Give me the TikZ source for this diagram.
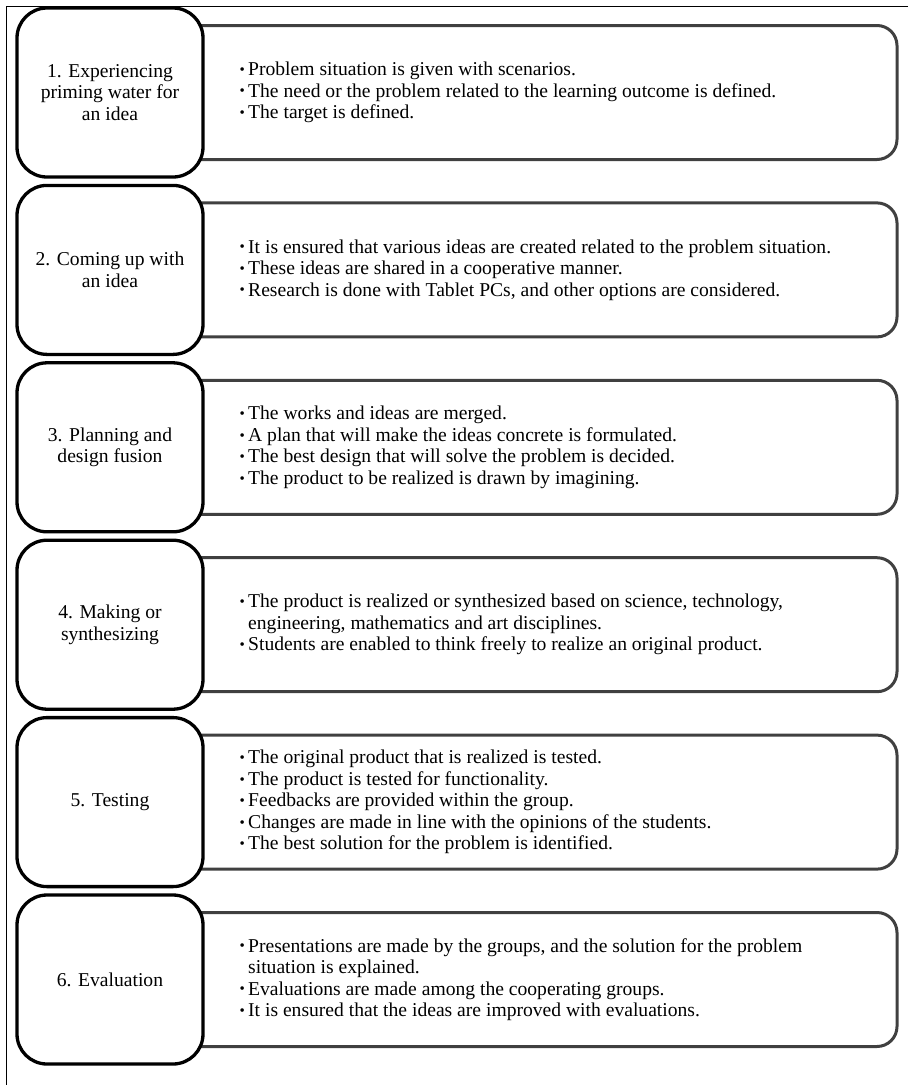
\documentclass[tikz,border=0pt]{standalone}
\usepackage{fontspec}
\setmainfont{Liberation Serif}
\newcommand{\bul}{\makebox[7pt][l]{\hspace*{-1.5pt}\raisebox{1.2pt}{\fontsize{15}{15}\selectfont •}}}
\newcommand{\cont}{\hspace*{7pt}}
\begin{document}
\begin{tikzpicture}[x=1pt,y=-1pt,
  stepbox/.style={draw=black,line width=3.3pt,rounded corners=30pt,fill=white,
    minimum width=186pt,minimum height=169pt,inner sep=0pt,align=center,
    font=\fontsize{19.6}{21.5}\selectfont},
  infobox/.style={draw=black!75,line width=3pt,rounded corners=20pt,fill=white,
    minimum width=717pt,minimum height=134pt,inner sep=0pt},
  infotext/.style={anchor=west,inner sep=0pt,align=left,
    font=\fontsize{19.6}{21.5}\selectfont}]
\useasboundingbox (0,0) rectangle (910,1085);
\coordinate (tl) at (6,6);
\coordinate (tr) at (908,6);
\coordinate (bl) at (6,1085);
\draw[line width=1pt] (tr) -- (tl) -- (bl);
\foreach \i/\lab/\txt in {
  1/{1. Experiencing\\priming water for\\an idea}/{\bul Problem situation is given with scenarios.\\\bul The need or the problem related to the learning outcome is defined.\\\bul The target is defined.},
  2/{2. Coming up with\\an idea}/{\bul It is ensured that various ideas are created related to the problem situation.\\\bul These ideas are shared in a cooperative manner.\\\bul Research is done with Tablet PCs, and other options are considered.},
  3/{3. Planning and\\design fusion}/{\bul The works and ideas are merged.\\\bul A plan that will make the ideas concrete is formulated.\\\bul The best design that will solve the problem is decided.\\\bul The product to be realized is drawn by imagining.},
  4/{4. Making or\\synthesizing}/{\bul The product is realized or synthesized based on science, technology,\\\cont engineering, mathematics and art disciplines.\\\bul Students are enabled to think freely to realize an original product.},
  5/{5. Testing}/{\bul The original product that is realized is tested.\\\bul The product is tested for functionality.\\\bul Feedbacks are provided within the group.\\\bul Changes are made in line with the opinions of the students.\\\bul The best solution for the problem is identified.},
  6/{6. Evaluation}/{\bul Presentations are made by the groups, and the solution for the problem\\\cont situation is explained.\\\bul Evaluations are made among the cooperating groups.\\\bul It is ensured that the ideas are improved with evaluations.}}{
  \pgfmathsetmacro{\yc}{92.5+177.4*(\i-1)}
  \node[infobox] (R\i) at (538.5,\yc) {};
  \node[stepbox] (L\i) at (110,\yc) {\lab};
  \node[infotext] (T\i) at (241,\yc) {\txt};
}
\end{tikzpicture}
\end{document}
